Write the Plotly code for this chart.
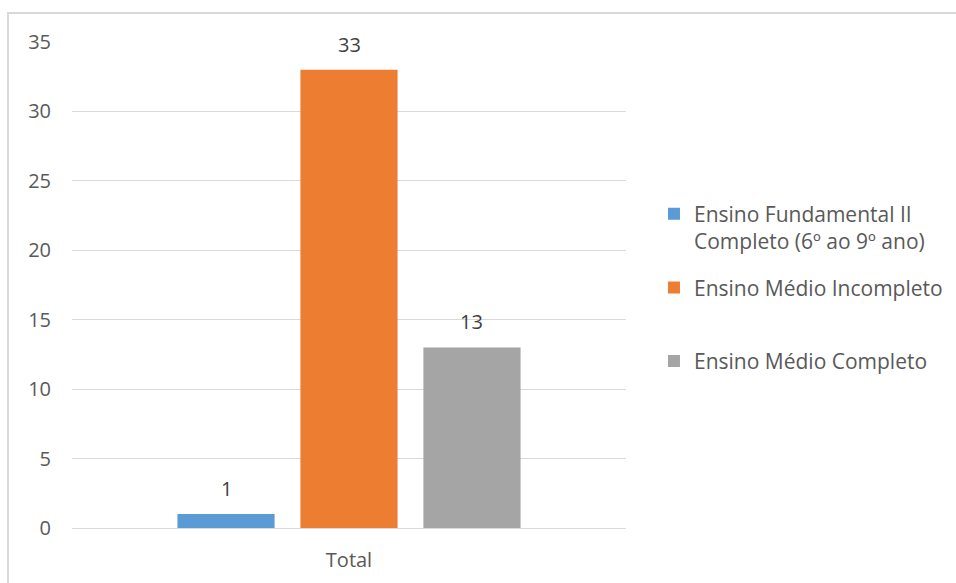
import plotly.graph_objects as go

categories = ["Total"]
series_names = [
    "Ensino Fundamental II<br>Completo (6º ao 9º ano)",
    "Ensino Médio Incompleto<br> ",
    "Ensino Médio Completo",
]
series_values = [[1], [33], [13]]
series_colors = ["#5b9bd5", "#ed7d31", "#a5a5a5"]
y_ticks = [0, 5, 10, 15, 20, 25, 30, 35]

FONT = "Open Sans, Noto Sans, sans-serif"
TEXT_COLOR = "#595959"
SIZE = 20

fig = go.Figure()
for i, (name, vals, col) in enumerate(zip(series_names, series_values, series_colors)):
    fig.add_trace(go.Bar(
        x=categories, y=vals, name=name,
        marker=dict(color=col, line=dict(width=0)),
        offsetgroup=str(i), legendgroup=f"g{i}",
    ))

# value labels above each bar, placed at the bar's own offset within the group
n = len(series_values)
bargap, bargroupgap = 0.334, 0.21
slot = (1 - bargap) / n
annotations = []
for i, vals in enumerate(series_values):
    for j, v in enumerate(vals):
        annotations.append(dict(
            x=j - (1 - bargap) / 2 + slot * (i + 0.5), y=v,
            xref="x", yref="y", text=str(v), showarrow=False,
            yanchor="bottom", yshift=10,
            font=dict(size=SIZE, color="#404040", family=FONT),
        ))

fig.update_layout(
    width=956, height=583,
    margin=dict(l=72, r=330, t=42, b=55, autoexpand=False),
    paper_bgcolor="white", plot_bgcolor="white",
    barmode="group", bargap=bargap, bargroupgap=bargroupgap,
    font=dict(family=FONT, size=SIZE, color=TEXT_COLOR),
    showlegend=True,
    legend=dict(
        x=1.0505, y=0.688, xanchor="left", yanchor="top",
        traceorder="grouped", tracegroupgap=16, valign="top",
        font=dict(size=21, color=TEXT_COLOR, family=FONT),
        bgcolor="rgba(0,0,0,0)",
    ),
    xaxis=dict(
        type="category",
        showgrid=False, showline=True, linecolor="#d9d9d9", linewidth=1,
        ticks="", ticklabelstandoff=14, tickfont=dict(size=SIZE, color=TEXT_COLOR),
    ),
    yaxis=dict(
        range=[0, 35], tickvals=y_ticks, showgrid=True, gridcolor="#d9d9d9",
        gridwidth=1, zeroline=False, showline=False, ticks="",
        ticklabelstandoff=20, tickfont=dict(size=SIZE, color=TEXT_COLOR),
    ),
    annotations=annotations,
    shapes=[dict(
        type="rect", xref="paper", yref="paper",
        x0=-0.1155, x1=2, y0=-1, y1=1.0597,
        line=dict(color="#d9d9d9", width=2), layer="below",
    )],
)

fig.write_html("out.html")
